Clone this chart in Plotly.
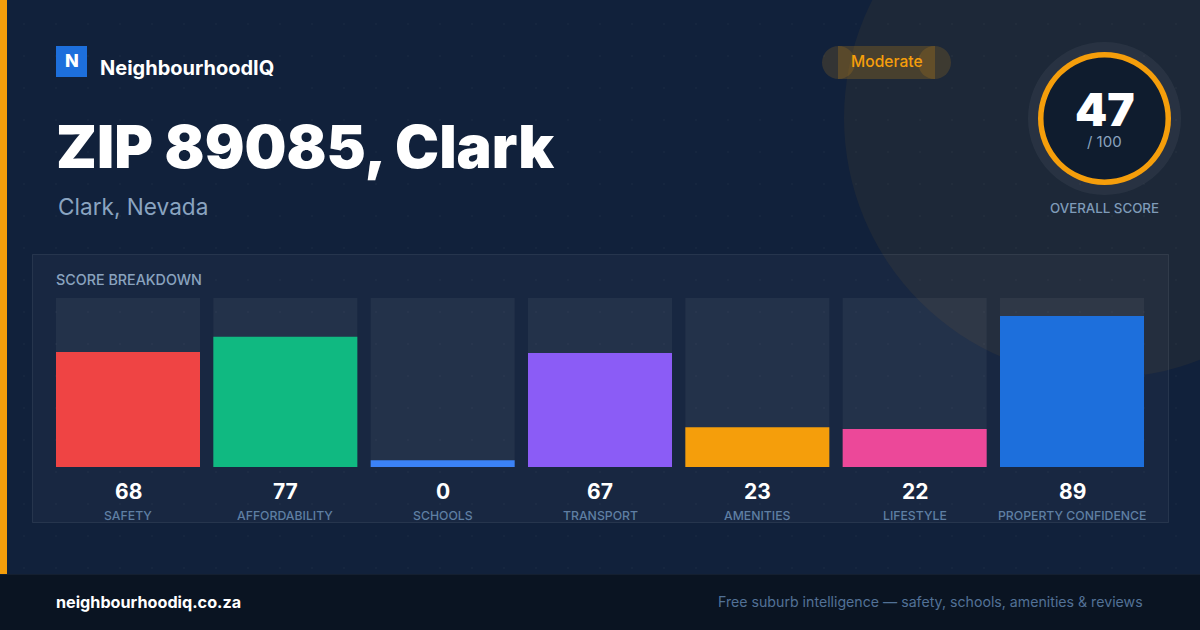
import plotly.graph_objects as go

categories = ["SAFETY", "AFFORDABILITY", "SCHOOLS", "TRANSPORT", "AMENITIES", "LIFESTYLE", "PROPERTY CONFIDENCE"]
scores = [68, 77, 0, 67, 23, 22, 89]
# the card gives a zero score a small stub, so the drawn height differs from the label
bar_heights = [68, 77, 4, 67.4, 23.5, 22.5, 89.4]
track_heights = [100, 100, 100, 100, 100, 100, 100]
bar_colors = ["#ef4444", "#10b981", "#3b82f6", "#8b5cf6", "#f59e0b", "#ec4899", "#1d6fdc"]

overall_score = "47"
overall_max = "/ 100"
band = "Moderate"

W, H = 1200, 630
BAR_W = 144 / ((1088 - 144) / 6)
FONT = "Inter"
AMBER = "#f59e0b"


def px(x):
    return x / W


def py(y):
    return 1 - y / H


def rect(x0, y0, x1, y1, fill, line=None, layer="below"):
    return dict(
        type="rect", xref="paper", yref="paper", layer=layer,
        x0=px(x0), x1=px(x1), y0=py(y0), y1=py(y1), fillcolor=fill,
        line=dict(color=line, width=1) if line else dict(width=0),
    )


def circle(cx, cy, r, fill, layer="below"):
    return dict(
        type="circle", xref="paper", yref="paper", layer=layer,
        x0=px(cx - r), x1=px(cx + r), y0=py(cy - r), y1=py(cy + r),
        fillcolor=fill, line=dict(width=0),
    )


def label(x, y, text, size, color, weight=400, anchor="left", xref="paper"):
    return dict(
        x=px(x) if xref == "paper" else x, y=py(y), xref=xref, yref="paper",
        text=text, showarrow=False, xanchor=anchor, yanchor="middle",
        font=dict(family=FONT, size=size, color=color, weight=weight),
    )


fig = go.Figure()

# faint dot pattern of the card background, on an axis pair that spans the whole page
dot_x = [24 + 32 * i for i in range(37)]
dot_y = [24 + 32 * i for i in range(18)]
fig.add_trace(
    go.Scatter(
        x=[x for x in dot_x for _ in dot_y],
        y=[y for _ in dot_x for y in dot_y],
        mode="markers",
        marker=dict(size=2, color="rgba(255,255,255,0.035)"),
        xaxis="x",
        yaxis="y",
        hoverinfo="skip",
    )
)

fig.add_trace(
    go.Bar(
        x=categories, y=track_heights, width=BAR_W,
        marker=dict(color="rgba(255,255,255,0.05)", line=dict(width=0)),
        xaxis="x2", yaxis="y2", hoverinfo="skip",
    )
)
fig.add_trace(
    go.Bar(
        x=categories, y=bar_heights, width=BAR_W,
        marker=dict(color=bar_colors, line=dict(width=0)),
        xaxis="x2", yaxis="y2", hoverinfo="skip",
    )
)

shapes = [
    circle(1104, 118, 260, "rgba(245,158,11,0.055)"),
    rect(0, 0, 7, 574, AMBER),
    rect(32.5, 254.5, 1168.5, 522.5, "rgba(255,255,255,0.03)", "rgba(255,255,255,0.08)"),
    rect(0, 574, 1200, 630, "#0a1422"),
    rect(0, 574, 1200, 575, "#141f30"),
    rect(56, 46, 87, 77, "#1d6fdc", layer="above"),
    # the pill is three overlapping translucent pieces, as in the reference
    rect(838, 46, 935, 79, "rgba(245,158,11,0.2)"),
    circle(838.5, 62.5, 16.5, "rgba(245,158,11,0.15)"),
    circle(934.5, 62.5, 16.5, "rgba(245,158,11,0.15)"),
    circle(1104.5, 118.5, 76.5, "rgba(255,255,255,0.05)"),
    circle(1104.5, 118.5, 66.5, AMBER, layer="above"),
    circle(1104.5, 118.5, 61, "#0f1c2e", layer="above"),
]

annotations = [
    label(71.5, 60.5, "N", 18, "#ffffff", 800, "center"),
    label(98, 68, "NeighbourhoodIQ", 20, "#ffffff", 700),
    label(54, 146.5, "ZIP 89085, Clark", 59, "#ffffff", 900),
    label(56, 207, "Clark, Nevada", 22.6, "#8aa4c0"),
    label(886.5, 61.5, band, 15.6, AMBER, 500, "center"),
    label(1104.5, 109, overall_score, 46, "#ffffff", 900, "center"),
    label(1104.5, 141, overall_max, 15, "#8aa3bf", 400, "center"),
    label(1104.5, 208, "OVERALL SCORE", 13.3, "#7f9bb8", 500, "center"),
    label(54, 279.5, "SCORE BREAKDOWN", 14.3, "#8aa3bf", 500),
    label(54, 602, "neighbourhoodiq.co.za", 16.2, "#ffffff", 700),
    label(1145, 601.5, "Free suburb intelligence — safety, schools, amenities &amp; reviews", 14.17, "#527196", 400, "right"),
]
for cat, score in zip(categories, scores):
    annotations.append(label(cat, 491.5, str(score), 21, "#ffffff", 700, "center", "x2"))
    annotations.append(label(cat, 515.5, cat, 12.25, "#5f7fa3", 500, "center", "x2"))

fig.update_layout(
    width=W,
    height=H,
    margin=dict(l=0, r=0, t=0, b=0),
    paper_bgcolor="#11213b",
    plot_bgcolor="rgba(0,0,0,0)",
    showlegend=False,
    barmode="overlay",
    shapes=shapes,
    annotations=annotations,
    xaxis=dict(domain=[0, 1], range=[0, W], visible=False, fixedrange=True),
    yaxis=dict(domain=[0, 1], range=[H, 0], visible=False, fixedrange=True),
    xaxis2=dict(
        domain=[px(56), px(1144)], range=[-BAR_W / 2, 6 + BAR_W / 2], type="category",
        categoryorder="array", categoryarray=categories, visible=False, anchor="y2",
    ),
    yaxis2=dict(domain=[py(467), py(298)], range=[0, 100], visible=False, anchor="x2"),
)

fig.write_html(
    "out.html",
    config=dict(displayModeBar=False, staticPlot=True),
    post_script="document.body.style.margin='0';document.body.style.overflow='hidden';",
)
